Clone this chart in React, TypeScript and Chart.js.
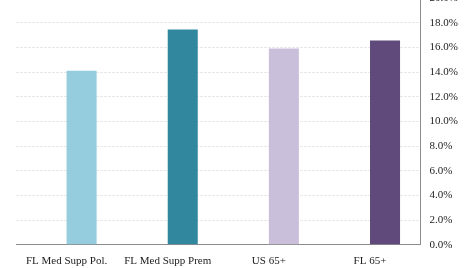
import React, { useEffect, useRef } from "react";
import { Chart, registerables } from "chart.js";

Chart.register(...registerables);

const categories = ["FL Med Supp Pol.", "FL Med Supp Prem", "US 65+", "FL 65+"];
const values = [14.1, 17.44, 15.9, 16.55];
const placeholder = [null, null, null, null];
const barColors = ["#95CDDF", "#31879D", "#CABFDB", "#5F4A7B"];
const yMin = 0;
const yMax = 20;
const yStep = 2;

export default function App() {
  const ref = useRef<HTMLCanvasElement | null>(null);
  useEffect(() => {
    if (!ref.current) return;
    const font = { family: "'Liberation Serif', 'Times New Roman', serif", size: 11 };
    const chart = new Chart(ref.current, {
      type: "bar",
      data: {
        labels: categories,
        datasets: [
          { data: placeholder as any, backgroundColor: "rgba(0,0,0,0)" },
          { data: values, backgroundColor: barColors, borderWidth: 0 },
        ],
      },
      options: {
        animation: false,
        responsive: true,
        maintainAspectRatio: false,
        categoryPercentage: 0.594,
        barPercentage: 1,
        layout: { padding: { top: 20, left: 16, right: 3, bottom: 1 } },
        plugins: { legend: { display: false }, tooltip: { enabled: false } },
        scales: {
          x: {
            grid: { display: false, drawTicks: false },
            border: { display: true, color: "#8c8c8c", width: 1 },
            ticks: { font, color: "#222", padding: 10, maxRotation: 0, autoSkip: false },
          },
          y: {
            position: "right",
            min: yMin,
            max: yMax,
            grid: { color: "#e8e8e8", drawTicks: false, lineWidth: 1 },
            border: { display: true, color: "#8c8c8c", width: 1, dash: [3, 1] },
            ticks: {
              font,
              color: "#222",
              padding: 9,
              stepSize: yStep,
              callback: (v: any) => Number(v).toFixed(1) + "%",
            },
          },
        },
      },
    });
    return () => chart.destroy();
  }, []);
  return (
    <div style={{ position: "absolute", left: 0, top: -22, width: 470, height: 301 }}>
      <canvas ref={ref} />
    </div>
  );
}
